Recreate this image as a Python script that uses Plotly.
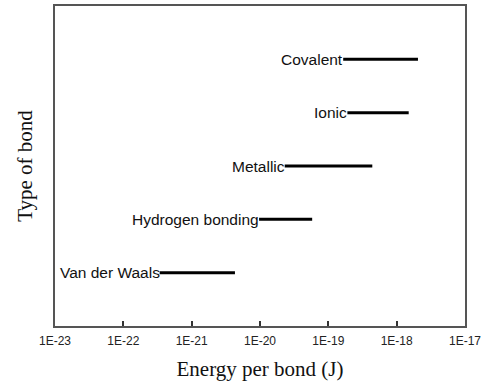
import math
import plotly.graph_objects as go

bond_types = ["Van der Waals", "Hydrogen bonding", "Metallic", "Ionic", "Covalent"]
energy_min = [3.4e-22, 9.7e-21, 2.3e-20, 1.9e-19, 1.65e-19]
energy_max = [4.3e-21, 5.8e-20, 4.4e-19, 1.5e-18, 2.05e-18]
tick_values = [1e-23, 1e-22, 1e-21, 1e-20, 1e-19, 1e-18, 1e-17]
tick_labels = ["1E-23", "1E-22", "1E-21", "1E-20", "1E-19", "1E-18", "1E-17"]

fig = go.Figure()
for i, name in enumerate(bond_types):
    fig.add_trace(go.Scatter(
        x=[energy_min[i], energy_max[i]],
        y=[i + 1, i + 1],
        mode="lines",
        line=dict(color="#000", width=3),
        showlegend=False,
        hoverinfo="skip",
    ))
    fig.add_annotation(
        x=math.log10(energy_min[i]), y=i + 1, xref="x", yref="y",
        text=name, showarrow=False, xanchor="right", yanchor="middle",
        xshift=2,
        font=dict(family="Liberation Sans, Arial", size=15.5, color="#111"),
    )

fig.update_layout(
    width=484, height=382,
    margin=dict(l=55, r=19, t=6, b=56),
    paper_bgcolor="white", plot_bgcolor="white",
    xaxis=dict(
        type="log", range=[-23, -17], automargin=False,
        tickvals=tick_values, ticktext=tick_labels,
        ticks="inside", ticklen=5, tickcolor="#333", tickwidth=1.5,
        ticklabelstandoff=3,
        tickfont=dict(family="Liberation Sans, Arial", size=12, color="#222"),
        showline=True, linecolor="#555", linewidth=1.5, mirror=True,
        showgrid=False, zeroline=False,
        title=dict(text="Energy per bond (J)", standoff=14,
                   font=dict(family="Liberation Serif, Times New Roman", size=21, color="#111")),
    ),
    yaxis=dict(
        range=[0, 6], showticklabels=False, ticks="", automargin=False,
        showline=True, linecolor="#555", linewidth=1.5, mirror=True,
        showgrid=False, zeroline=False,
        title=dict(text="Type of bond", standoff=15,
                   font=dict(family="Liberation Serif, Times New Roman", size=21, color="#111")),
    ),
)

fig.write_html("out.html", config={"displayModeBar": False},
               post_script="document.body.style.margin='0px';")
